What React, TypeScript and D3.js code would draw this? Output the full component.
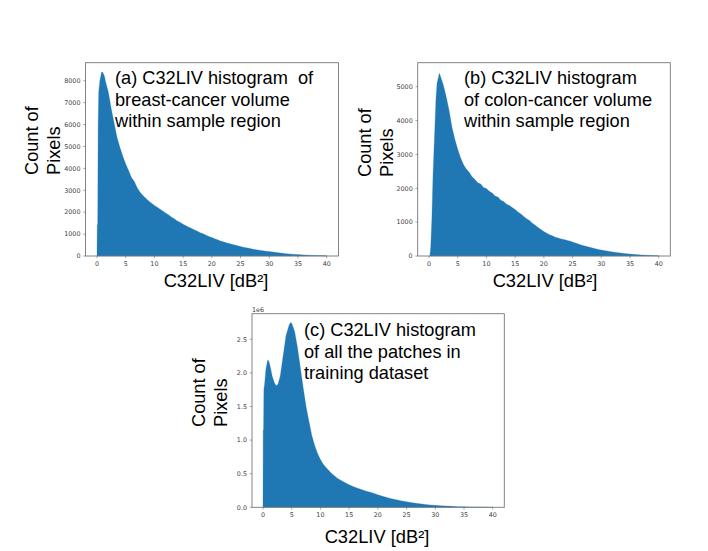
import React from 'react';
import * as d3 from 'd3';

// Bin positions: fine near the peak, half units through the noisy part, then whole units
const headX = [0, 0.04, 0.12, 0.2, 0.3, 0.5, 0.8, 1, 1.3, 1.5, 2, 2.5, 3, 3.5, 4, 4.5];
const bodyX = d3.range(5, 30.5, 0.5);
const tailX = [31, 32, 33, 34, 35, 36, 37, 38, 39, 40];

// Values
const breastX = [...headX, ...bodyX, ...tailX];
const breastCount = [
  0, 1400, 1450, 6000, 7500, 8000, 8400, 8380, 8200, 7950, 7450, 6700, 6050, 5400, 4950, 4550,
  4200, 3900, 3580, 3400, 3110, 2910, 2760, 2630, 2510, 2410, 2310, 2220, 2130, 2040, 1950, 1870, 1770,
  1690, 1600, 1530, 1450, 1380, 1310, 1250, 1190, 1130, 1060, 1010, 950, 890, 840, 790, 740, 690, 645,
  605, 570, 535, 500, 470, 435, 405, 375, 350, 325, 300, 275, 255, 235, 220, 205,
  170, 135, 108, 85, 65, 50, 38, 28, 18, 10,
];

const colonX = [0.15, 0.3, 0.5, 0.7, 1, 1.2, 1.4, 1.6, 1.8, 2, 2.5, 3, 3.5, 4, 4.5, ...bodyX, ...tailX];
const colonCount = [
  0, 250, 1100, 2400, 3700, 4600, 5100, 5250, 5400, 5300, 5050, 4700, 4300, 3800, 3450,
  3150, 2900, 2700, 2570, 2470, 2340, 2260, 2160, 2130, 2020, 1990, 1910, 1860, 1770, 1740, 1650, 1610,
  1530, 1490, 1430, 1370, 1300, 1240, 1170, 1100, 1050, 970, 910, 840, 780, 720, 670, 630, 595, 555,
  530, 505, 485, 465, 440, 415, 385, 355, 325, 300, 280, 260, 238, 215, 195, 175,
  150, 120, 98, 76, 58, 45, 33, 24, 16, 9,
];

const allX = [0, 0.03, 0.1, 0.15, 0.3, 0.5, 0.8, 1, 1.3, 1.6, 2, 2.3, 2.6, 3, 3.5, 4, 4.5, 4.8, 5, 5.5, 6, 6.5, 7, 7.5, 8, 8.5, 9, 9.5, 10, 10.5, 11, 12, 13, 14, 15, 16, 17, 18, 19, 20, 21, 22, 23, 24, 25, 26, 27, 28, 29, 30, 31, 32, 33, 34, 35, 36, 37, 38, 39, 40];
const allCount = [0, 1.15, 1.15, 1.75, 1.85, 2.05, 2.19, 2.18, 2.08, 1.95, 1.85, 1.81, 1.83, 1.95, 2.25, 2.55, 2.7, 2.75, 2.74, 2.62, 2.38, 2.08, 1.78, 1.5, 1.28, 1.07, 0.92, 0.8, 0.71, 0.64, 0.59, 0.5, 0.43, 0.38, 0.335, 0.3, 0.27, 0.24, 0.215, 0.185, 0.16, 0.135, 0.115, 0.098, 0.083, 0.068, 0.055, 0.045, 0.036, 0.029, 0.023, 0.018, 0.014, 0.01, 0.008, 0.006, 0.004, 0.003, 0.002, 0.0015];

const xTicks = [0, 5, 10, 15, 20, 25, 30, 35, 40];
const breastTicks = [0, 1000, 2000, 3000, 4000, 5000, 6000, 7000, 8000];
const colonTicks = [0, 1000, 2000, 3000, 4000, 5000];
const allTicks = [0, 0.5, 1, 1.5, 2, 2.5];

const breastNote = ['(a) C32LIV histogram  of', 'breast-cancer volume', 'within sample region'];
const colonNote = ['(b) C32LIV histogram', 'of colon-cancer volume', 'within sample region'];
const allNote = ['(c) C32LIV histogram', 'of all the patches in', 'training dataset'];

const BAR = '#1f77b4';
const SANS = '"Liberation Sans", Arial, sans-serif';
const TICK_FONT = '"DejaVu Sans", sans-serif';
const TICK_COLOR = '#444';

interface PanelProps {
  xs: number[];
  counts: number[];
  yTicks: number[];
  yFormat: (v: number) => string;
  note: string[];
  frame: { left: number; right: number; top: number; bottom: number };
  x0: number;
  x40: number;
  yTickValue: number;
  yTickPos: number;
  noteX: number;
  noteY: number;
  labelX: number;
  labelY: number;
  countX: number;
  pixelsX: number;
  ylabelStart: number;
  offset?: string;
}

const Panel: React.FC<PanelProps> = (p) => {
  const x = d3.scaleLinear().domain([0, 40]).range([p.x0, p.x40]);
  const y = d3.scaleLinear().domain([0, p.yTickValue]).range([p.frame.bottom, p.yTickPos]);
  const points = p.xs.map((v, i) => [v, p.counts[i]] as [number, number]);
  const area = d3.area<[number, number]>()
    .x(d => x(d[0]))
    .y0(y(0))
    .y1(d => y(d[1]));

  return (
    <g>
      {/* pale fringe along the top of the bars */}
      <path d={area(points) || ''} fill={BAR} stroke={BAR} strokeOpacity={0.35} strokeWidth={0.8} />
      <rect
        x={p.frame.left}
        y={p.frame.top}
        width={p.frame.right - p.frame.left}
        height={p.frame.bottom - p.frame.top}
        fill="none"
        stroke="#777"
        strokeWidth={0.9}
      />
      {xTicks.map(t => (
        <g key={`x-${t}`} transform={`translate(${x(t)}, ${p.frame.bottom})`}>
          <line y2={2.3} stroke="#555" strokeWidth={0.5} />
          <text y={9.5} textAnchor="middle" fontSize={6.4} fontFamily={TICK_FONT} fill={TICK_COLOR}>{t}</text>
        </g>
      ))}
      {p.yTicks.map(t => (
        <g key={`y-${t}`} transform={`translate(${p.frame.left}, ${y(t)})`}>
          <line x2={-2.3} stroke="#555" strokeWidth={0.5} />
          <text x={-5} dy=".35em" textAnchor="end" fontSize={6.4} fontFamily={TICK_FONT} fill={TICK_COLOR}>{p.yFormat(t)}</text>
        </g>
      ))}
      {p.offset && (
        <text x={p.frame.left} y={p.frame.top - 2} fontSize={6.4} fontFamily={TICK_FONT} fill={TICK_COLOR}>{p.offset}</text>
      )}
      {p.note.map((line, i) => (
        <text key={i} x={p.noteX} y={p.noteY + i * 21.7} fontSize={18.2} fontFamily={SANS} fill="#000" xmlSpace="preserve">{line}</text>
      ))}
      <text x={p.labelX} y={p.labelY} textAnchor="middle" fontSize={18.3} fontFamily={SANS} fill="#000">C32LIV [dB²]</text>
      <text transform={`translate(${p.countX}, ${p.ylabelStart}) rotate(-90)`} fontSize={18.2} fontFamily={SANS} fill="#000">Count of</text>
      <text transform={`translate(${p.pixelsX}, ${p.ylabelStart}) rotate(-90)`} fontSize={18.2} fontFamily={SANS} fill="#000">Pixels</text>
    </g>
  );
};

export default function App() {
  return (
    <svg width={708} height={551} style={{ position: 'absolute', left: 0, top: 0, background: '#fff' }}>
      <Panel
        xs={breastX}
        counts={breastCount}
        yTicks={breastTicks}
        yFormat={String}
        note={breastNote}
        frame={{ left: 85.5, right: 338.5, top: 62.7, bottom: 256 }}
        x0={97}
        x40={326.7}
        yTickValue={8000}
        yTickPos={80.7}
        noteX={115}
        noteY={84}
        labelX={216}
        labelY={287}
        countX={38}
        pixelsX={60}
        ylabelStart={175}
      />
      <Panel
        xs={colonX}
        counts={colonCount}
        yTicks={colonTicks}
        yFormat={String}
        note={colonNote}
        frame={{ left: 417.7, right: 670.3, top: 62.7, bottom: 256 }}
        x0={429}
        x40={658.7}
        yTickValue={5000}
        yTickPos={86.7}
        noteX={464}
        noteY={84}
        labelX={545}
        labelY={287}
        countX={371}
        pixelsX={393}
        ylabelStart={177}
      />
      <Panel
        xs={allX}
        counts={allCount}
        yTicks={allTicks}
        yFormat={d3.format('.1f')}
        note={allNote}
        frame={{ left: 252, right: 504.3, top: 313.7, bottom: 507.3 }}
        x0={263}
        x40={492.7}
        yTickValue={2.5}
        yTickPos={339.3}
        noteX={304}
        noteY={336}
        labelX={377}
        labelY={543}
        countX={205}
        pixelsX={227}
        ylabelStart={427}
        offset="1e6"
      />
    </svg>
  );
}
